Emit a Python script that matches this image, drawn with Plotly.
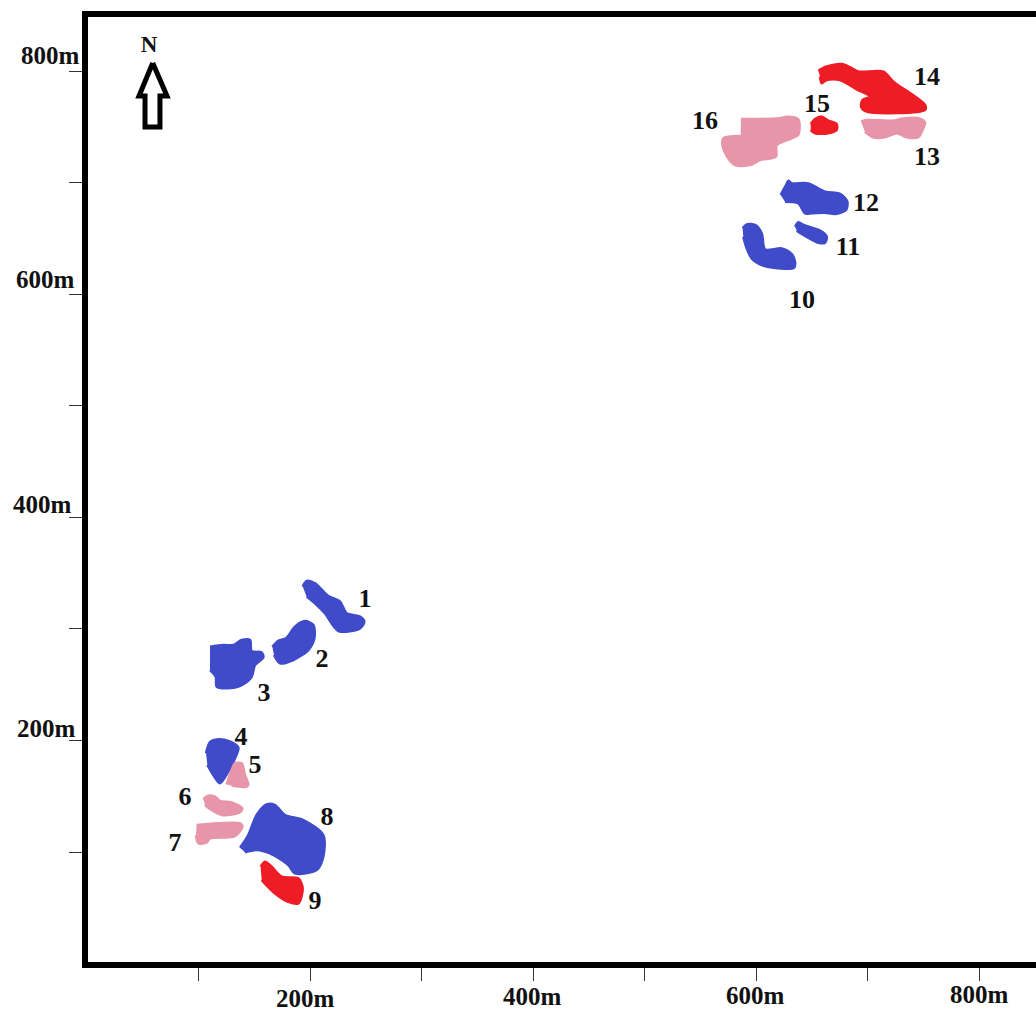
import plotly.graph_objects as go

BLUE = "#3F4BC9"
PINK = "#E795A8"
RED = "#EE1C25"

# Region outlines, in metres
r1_x = [193.0,196.6,204.1,216.0,226.5,232.5,244.4,248.3,244.4,225.0,213.0,205.6,196.6]
r1_y = [337.9,342.9,340.8,329.5,324.4,313.9,311.0,306.5,300.5,298.1,313.9,321.4,328.9]
r2_x = [165.8,171.2,178.0,186.1,195.1,202.6,203.5,198.1,184.6,172.7,167.3]
r2_y = [284.0,289.4,291.5,302.0,307.0,303.5,291.5,281.0,272.1,269.1,276.6]
r3_x = [109.9,121.8,130.8,138.3,145.8,147.2,156.2,157.7,150.2,147.2,138.3,124.8,115.9,115.0,109.9]
r3_y = [284.0,285.5,285.5,290.0,290.0,280.1,278.9,274.5,267.6,257.1,249.6,246.7,248.2,257.1,263.1]
r4_x = [106.3,109.9,117.3,126.3,135.3,132.3,126.3,118.8,112.8,107.5]
r4_y = [188.5,198.4,201.0,199.5,193.6,184.0,172.0,161.6,169.0,178.0]
r5_x = [124.8,129.3,132.3,138.3,141.2,144.2,141.2,129.3]
r5_y = [160.7,173.5,179.5,179.5,169.1,160.1,158.3,159.5]
r6_x = [103.9,108.4,114.3,118.8,129.3,138.9,136.8,120.3,109.9,105.4]
r6_y = [147.5,150.5,149.6,145.7,144.5,139.2,135.6,133.2,138.5,142.1]
r7_x = [97.9,136.8,138.9,132.3,109.9,106.9,99.4,97.3]
r7_y = [124.2,125.7,122.7,114.3,112.2,108.7,107.8,115.2]
r8_x = [136.8,144.2,151.7,160.7,168.2,177.1,193.6,211.5,211.5,205.5,186.1,180.1,163.7,151.7,141.2]
r8_y = [103.9,115.2,133.2,142.7,142.1,133.2,128.7,115.2,95.8,83.8,80.8,88.3,98.8,101.8,99.7]
r9_x = [155.3,159.2,165.2,174.1,189.1,193.0,189.1,180.1,168.2,156.2]
r9_y = [86.8,91.3,86.8,77.9,76.4,67.4,54.0,55.4,62.9,74.9]
r10_x = [587.6,591.2,598.7,604.7,607.7,622.6,631.6,634.6,633.7,615.1,604.7,595.7,591.2,588.2]
r10_y = [659.0,662.6,662.0,654.5,640.1,641.0,635.9,629.1,623.7,623.7,626.1,632.1,641.0,651.5]
r11_x = [634.6,637.6,642.1,657.0,663.0,661.5,655.5,642.1,636.1]
r11_y = [660.5,664.4,662.0,656.9,651.5,646.1,646.1,653.0,656.9]
r12_x = [621.7,626.5,628.6,631.6,646.5,661.5,675.0,681.5,680.3,670.5,661.5,649.5,643.5,637.6,625.6]
r12_y = [688.9,697.8,701.7,699.3,699.3,691.9,689.8,682.9,675.4,671.8,673.0,672.4,672.4,681.4,682.9]
r13_x = [693.8,698.8,722.8,730.2,746.7,751.2,748.2,745.2,734.7,725.8,715.3,704.8,697.3]
r13_y = [754.6,756.1,755.5,757.3,757.3,753.7,745.6,740.6,740.6,744.2,740.6,740.6,745.6]
r14_x = [655.5,663.0,676.4,683.9,691.4,713.8,722.8,751.2,751.2,698.8,693.8,695.3,701.8,689.9,674.9,663.0,658.5,657.0]
r14_y = [800.4,804.0,806.3,803.4,799.5,799.5,790.5,769.6,765.1,763.6,768.1,774.1,777.0,783.6,792.0,792.0,789.0,795.0]
r15_x = [648.6,652.5,658.5,664.5,671.9,671.9,664.5,652.5,648.6]
r15_y = [752.5,757.0,759.1,755.5,752.5,747.1,744.2,744.2,747.1]
r16_x = [586.1,621.1,627.1,637.5,637.5,631.6,618.1,617.5,603.2,594.2,580.7,573.3,569.7,570.3,585.8]
r16_y = [757.0,757.6,759.1,756.7,742.7,739.7,733.7,723.2,720.2,715.7,715.7,723.8,732.2,739.7,741.8]

regions = [
    (r1_x, r1_y, BLUE), (r2_x, r2_y, BLUE), (r3_x, r3_y, BLUE), (r4_x, r4_y, BLUE),
    (r5_x, r5_y, PINK), (r6_x, r6_y, PINK), (r7_x, r7_y, PINK), (r8_x, r8_y, BLUE),
    (r9_x, r9_y, RED), (r10_x, r10_y, BLUE), (r11_x, r11_y, BLUE), (r12_x, r12_y, BLUE),
    (r13_x, r13_y, PINK), (r14_x, r14_y, RED), (r15_x, r15_y, RED), (r16_x, r16_y, PINK),
]

label_text = [str(i) for i in range(1, 17)]
label_x = [248.9,210.3,158.3,137.7,150.2,87.4,78.5,214.8,204.0,640.8,682.1,698.2,752.9,752.9,654.3,553.8]
label_y = [325.5,271.6,241.1,201.6,176.5,147.8,106.6,129.9,54.6,593.3,640.9,680.3,721.4,793.2,768.9,753.7]

arrow_x = [58.5,46.2,51.6,51.6,65.0,65.0,71.3,58.5]
arrow_y = [807.2,777.6,777.6,749.8,749.8,777.6,777.6,807.2]

tick_vals = [100,200,300,400,500,600,700,800]
x_tick_labels = ["200m","400m","600m","800m"]
x_tick_label_px = [(305,998),(532,996),(755,995),(979,994)]
y_tick_labels = ["800m","600m","400m","200m"]
y_tick_label_px = [(50,56),(45,279),(42,504),(46,728)]

SERIF = "Liberation Serif"
W, H = 1036, 1012
L, R, T, B = 88, 0, 17, 50

fig = go.Figure()
for rx, ry, col in regions:
    fig.add_trace(go.Scatter(x=rx, y=ry, mode="lines", fill="toself", fillcolor=col,
                             line=dict(color=col, width=2.5, shape="spline", smoothing=0.8),
                             hoverinfo="skip", showlegend=False))
fig.add_trace(go.Scatter(x=arrow_x, y=arrow_y, mode="lines", fill="toself", fillcolor="white",
                         line=dict(color="black", width=5), hoverinfo="skip", showlegend=False))
fig.add_trace(go.Scatter(x=label_x, y=label_y, mode="text", text=label_text,
                         textfont=dict(family=SERIF, size=26, color="#111"),
                         texttemplate="<b>%{text}</b>", hoverinfo="skip", showlegend=False))
fig.add_trace(go.Scatter(x=[55.2], y=[822.0], mode="text", text=["N"],
                         textfont=dict(family=SERIF, size=23, color="#111"),
                         texttemplate="<b>%{text}</b>", hoverinfo="skip", showlegend=False))

def paper_x(px):
    return (px - L) / (W - L - R)

def paper_y(py):
    return (H - B - py) / (H - T - B)

anns = []
for txt, (px, py) in list(zip(x_tick_labels, x_tick_label_px)) + list(zip(y_tick_labels, y_tick_label_px)):
    anns.append(dict(text=f"<b>{txt}</b>", x=paper_x(px), y=paper_y(py), xref="paper", yref="paper",
                     xanchor="center", yanchor="middle", showarrow=False,
                     font=dict(family=SERIF, size=25, color="#111")))

fig.update_layout(
    width=W, height=H, margin=dict(l=L, r=R, t=T, b=B), paper_bgcolor="white", plot_bgcolor="white",
    annotations=anns, showlegend=False,
    xaxis=dict(range=[0.45, 850.7], tickmode="array", tickvals=tick_vals, ticktext=[""]*8,
               ticks="outside", ticklen=13, tickwidth=1.3, tickcolor="#333", showgrid=False, zeroline=False,
               showline=True, linecolor="black", linewidth=5.5, mirror=True),
    yaxis=dict(range=[1.43, 848.4], tickmode="array", tickvals=tick_vals, ticktext=[""]*8,
               ticks="outside", ticklen=13, tickwidth=1.3, tickcolor="#333", showgrid=False, zeroline=False,
               showline=True, linecolor="black", linewidth=5.5),
)
fig.write_html("out.html", config=dict(displayModeBar=False),
               post_script="document.body.style.margin='0';document.body.style.overflow='hidden';")
